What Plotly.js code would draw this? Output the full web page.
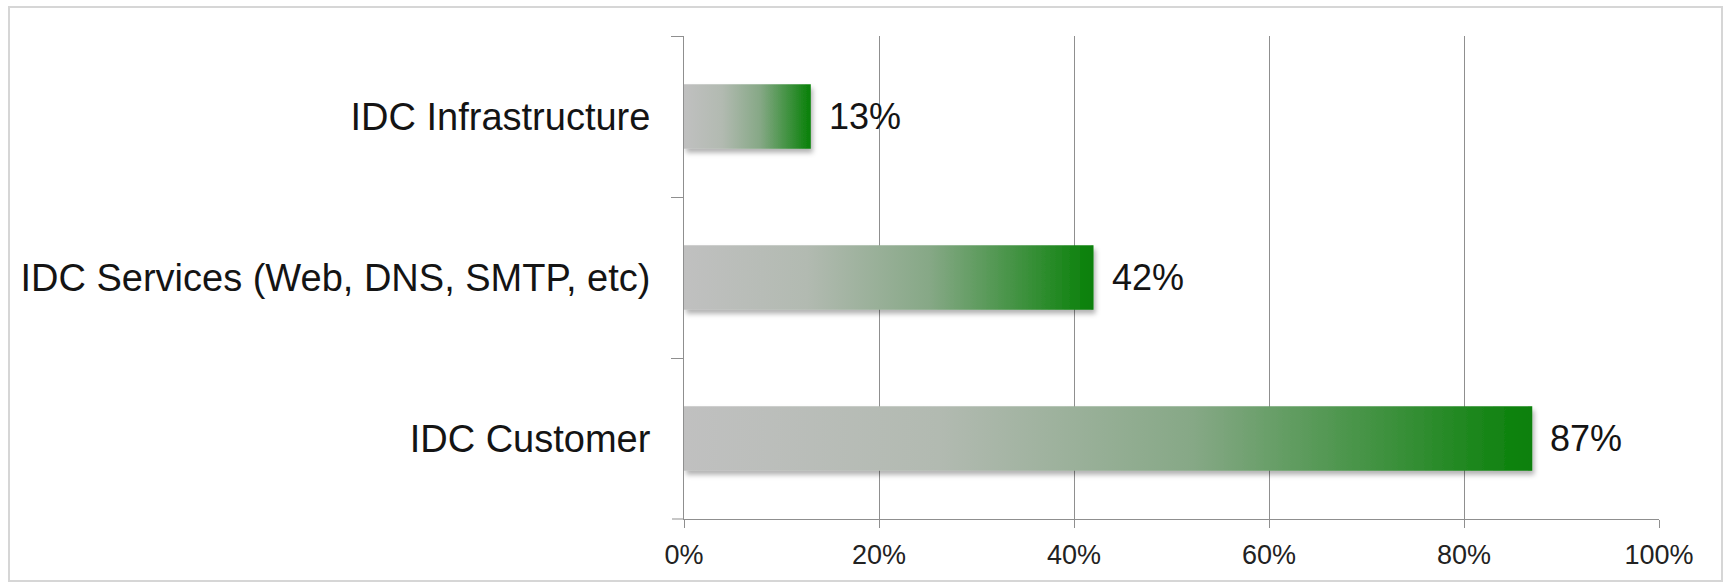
<!DOCTYPE html>
<html>
<head>
<meta charset="utf-8">
<script src="https://cdn.plot.ly/plotly-3.0.1.min.js"></script>
<style>
  html, body { margin: 0; padding: 0; background: #ffffff; }
  #wrap { position: relative; width: 1724px; height: 582px; overflow: hidden; }
  #chart { position: absolute; left: 0; top: 0; width: 1724px; height: 582px; }
  #frame { position: absolute; left: 8px; top: 6px; width: 1711px; height: 572px;
           border: 2px solid #d6d6d6; pointer-events: none; }
</style>
</head>
<body>
<div id="wrap">
  <div id="chart"></div>
  <div id="frame"></div>
</div>
<script>
// Data (top to bottom as drawn)
const categories = ["IDC Infrastructure", "IDC Services (Web, DNS, SMTP, etc)", "IDC Customer"];
const values = [13, 42, 87];
const xTickValues = [0, 20, 40, 60, 80, 100];
const xTickLabels = ["0%", "20%", "40%", "60%", "80%", "100%"];
const valueLabels = ["13%", "42%", "87%"];

const FONT = "Liberation Sans, Arial, sans-serif";

const trace = {
  type: "bar",
  orientation: "h",
  x: values,
  y: categories,
  marker: { color: "#6a9a6a", line: { width: 0 } },
  hoverinfo: "none",
  showlegend: false
};

const annotations = values.map((v, i) => ({
  x: v, y: categories[i], xref: "x", yref: "y",
  text: valueLabels[i], showarrow: false,
  xanchor: "left", yanchor: "middle", xshift: 16,
  font: { family: FONT, size: 36, color: "#141414" }
}));

const layout = {
  width: 1724, height: 582,
  margin: { l: 684, r: 65, t: 36, b: 63, pad: 0 },
  paper_bgcolor: "rgba(0,0,0,0)",
  plot_bgcolor: "rgba(0,0,0,0)",
  bargap: 0.6,
  xaxis: {
    range: [0, 100],
    tickmode: "array", tickvals: xTickValues, ticktext: xTickLabels,
    showgrid: true, gridcolor: "#8f8f8f", gridwidth: 1,
    showline: true, linecolor: "#8f8f8f", linewidth: 1,
    ticks: "outside", ticklen: 8, tickcolor: "#8f8f8f", tickwidth: 1,
    tickfont: { family: FONT, size: 27, color: "#222222" },
    ticklabelstandoff: 4,
    zeroline: false, fixedrange: true
  },
  yaxis: {
    type: "category",
    autorange: "reversed",
    tickson: "boundaries",
    showgrid: false,
    showline: true, linecolor: "#8f8f8f", linewidth: 1,
    ticks: "outside", ticklen: 12, tickcolor: "#8f8f8f", tickwidth: 1,
    tickfont: { family: FONT, size: 38, color: "#141414" },
    ticklabelstandoff: 25,
    zeroline: false, fixedrange: true
  },
  shapes: [{
    type: "line", xref: "paper", yref: "paper",
    x0: -12 / 975, x1: 0, y0: 0, y1: 0,
    line: { color: "#8f8f8f", width: 1 }
  }],
  annotations: annotations
};

Plotly.newPlot("chart", [trace], layout, { displayModeBar: false, staticPlot: true }).then(gd => {
  const svgNS = "http://www.w3.org/2000/svg";
  const svg = gd.querySelector(".main-svg");
  let defs = svg.querySelector("defs");
  if (!defs) { defs = document.createElementNS(svgNS, "defs"); svg.insertBefore(defs, svg.firstChild); }

  const grad = document.createElementNS(svgNS, "linearGradient");
  grad.setAttribute("id", "barGrad");
  grad.setAttribute("x1", "0"); grad.setAttribute("y1", "0");
  grad.setAttribute("x2", "1"); grad.setAttribute("y2", "0");
  [["0", "#c0c0c0"], ["0.3", "#b2bab1"], ["0.6", "#86a886"], ["1", "#078007"]].forEach(([o, c]) => {
    const s = document.createElementNS(svgNS, "stop");
    s.setAttribute("offset", o); s.setAttribute("stop-color", c);
    grad.appendChild(s);
  });
  defs.appendChild(grad);

  const filt = document.createElementNS(svgNS, "filter");
  filt.setAttribute("id", "barShadow");
  filt.setAttribute("x", "-5%"); filt.setAttribute("y", "-20%");
  filt.setAttribute("width", "115%"); filt.setAttribute("height", "160%");
  const ds = document.createElementNS(svgNS, "feDropShadow");
  ds.setAttribute("dx", "2"); ds.setAttribute("dy", "4");
  ds.setAttribute("stdDeviation", "2.5");
  ds.setAttribute("flood-color", "#000000"); ds.setAttribute("flood-opacity", "0.3");
  filt.appendChild(ds);
  defs.appendChild(filt);

  gd.querySelectorAll(".barlayer .point path").forEach(p => {
    p.style.fill = "url(#barGrad)";
    p.style.fillOpacity = "1";
    p.setAttribute("filter", "url(#barShadow)");
  });
});
</script>
</body>
</html>
